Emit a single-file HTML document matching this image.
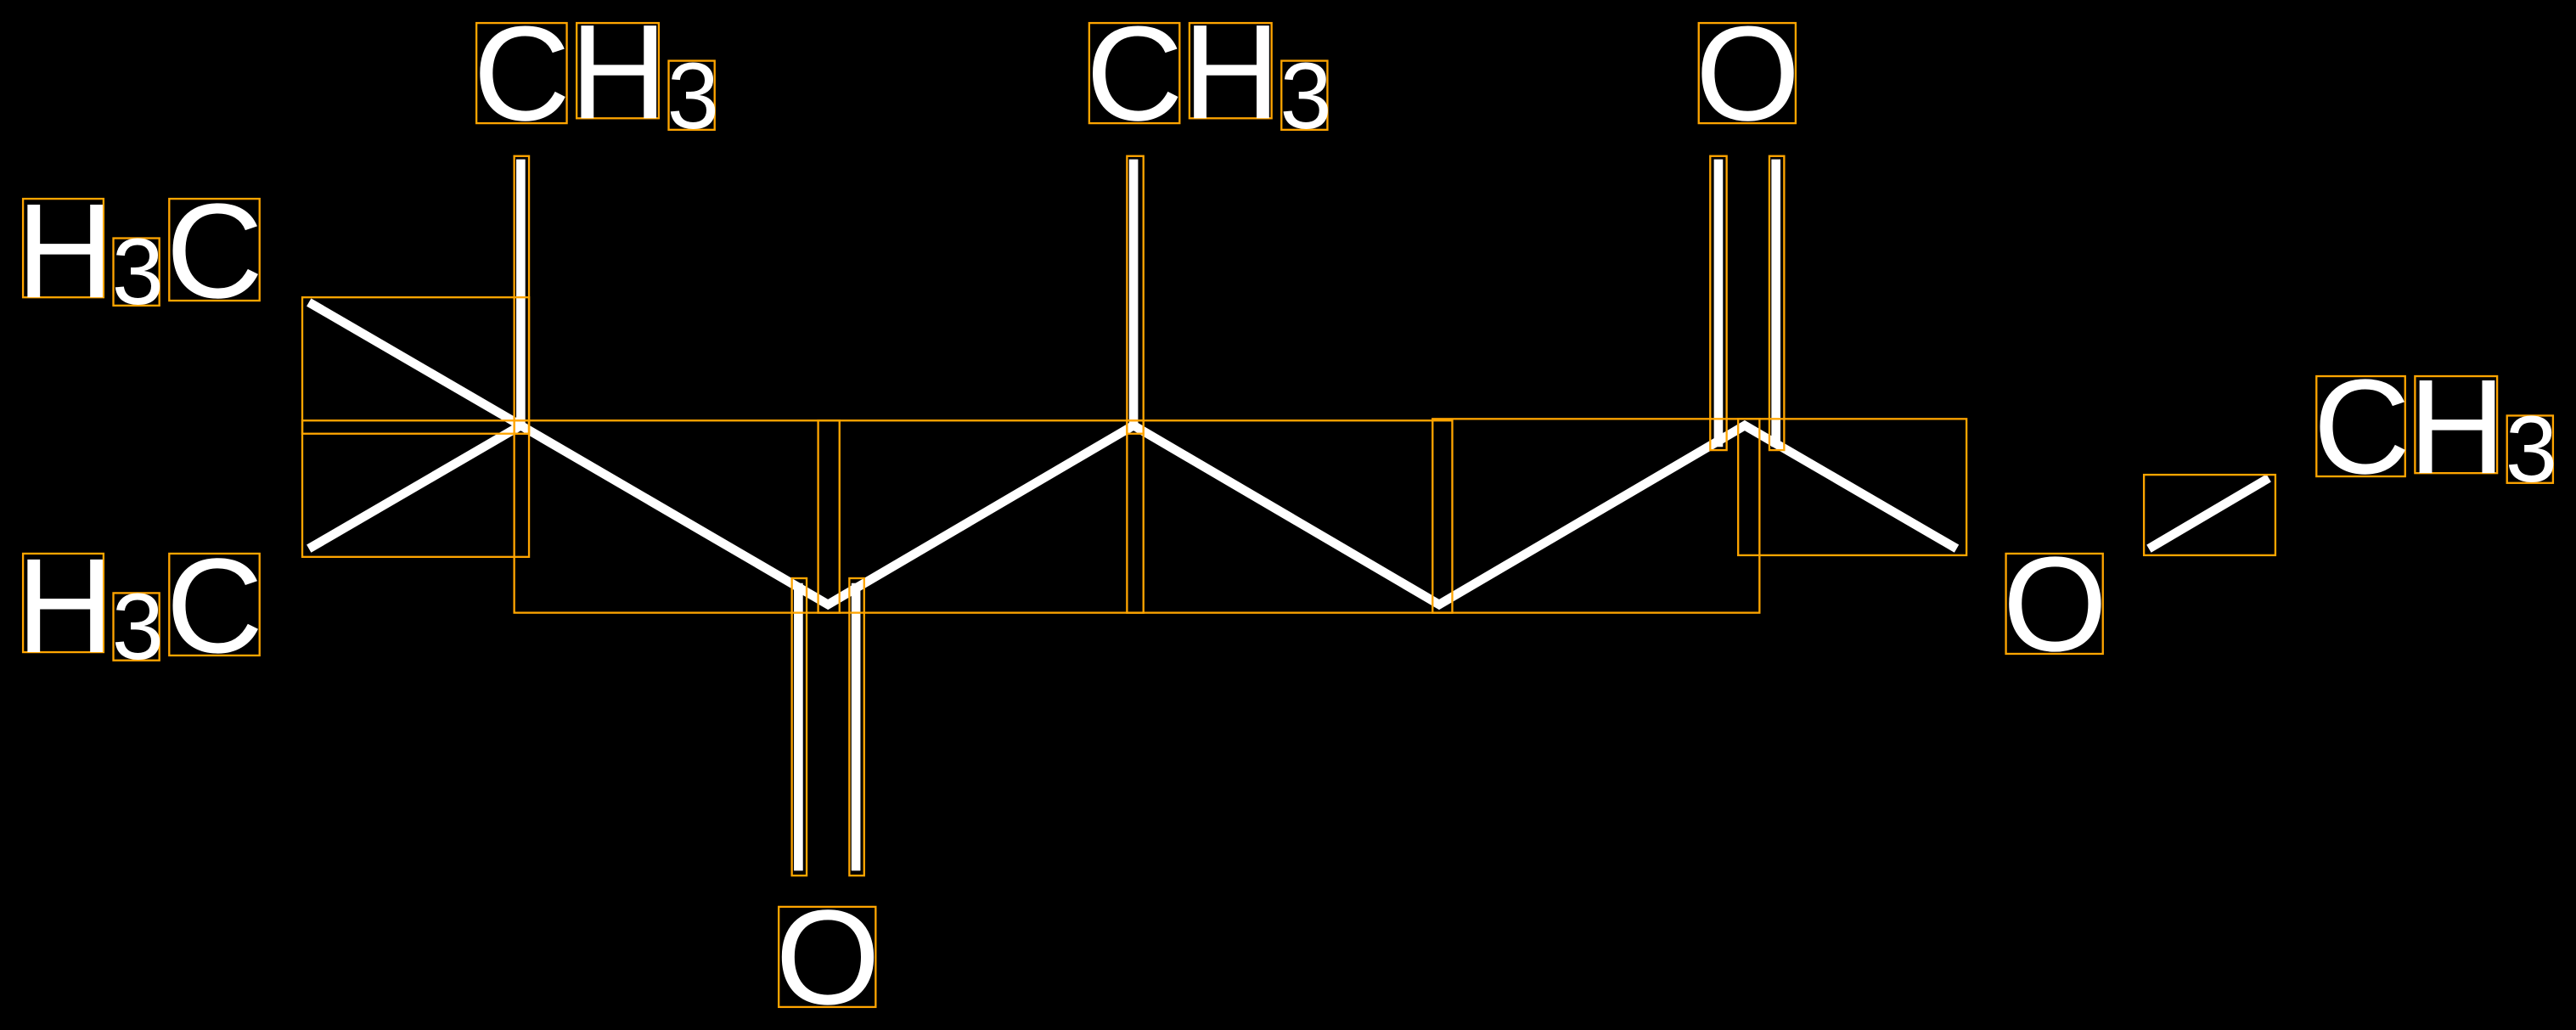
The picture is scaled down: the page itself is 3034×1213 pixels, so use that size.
<!DOCTYPE html>
<html><head><meta charset="utf-8"><style>
html,body{margin:0;padding:0;background:#000;width:3034px;height:1213px;overflow:hidden}
svg{display:block}
text{font-family:"Liberation Sans",sans-serif;fill:#fff}
</style></head><body>
<svg width="3034" height="1213" viewBox="0 0 1568 627" preserveAspectRatio="none" xmlns="http://www.w3.org/2000/svg">
<rect width="1568" height="627" fill="#000"/>
<g stroke="#fff" stroke-width="5.5" fill="none" stroke-linecap="butt">
<line x1="188" y1="184" x2="317" y2="259"/>
<line x1="188" y1="334" x2="317" y2="259"/>
<line x1="317" y1="97" x2="317" y2="259"/>
<polyline points="317,259 504,368 690,259 876,368 1062,259 1191,334"/>
<line x1="690" y1="97" x2="690" y2="259"/>
<line x1="1046" y1="97" x2="1046" y2="272"/>
<line x1="1081" y1="97" x2="1081" y2="272"/>
<line x1="486" y1="355" x2="486" y2="530"/>
<line x1="521" y1="355" x2="521" y2="530"/>
<line x1="1308" y1="334" x2="1381" y2="291"/>
</g>
<g stroke="#FFA500" stroke-width="1.2" fill="none">
<rect x="184" y="181" width="138" height="158"/>
<rect x="184" y="256" width="138" height="8"/>
<rect x="313" y="95" width="9" height="169"/>
<rect x="313" y="256" width="198" height="117"/>
<rect x="498" y="256" width="198" height="117"/>
<rect x="686" y="256" width="198" height="117"/>
<rect x="872" y="255" width="199" height="118"/>
<rect x="1058" y="255" width="139" height="83"/>
<rect x="686" y="95" width="10" height="169"/>
<rect x="482" y="352" width="9" height="181"/>
<rect x="517" y="352" width="9" height="181"/>
<rect x="1041" y="95" width="10" height="179"/>
<rect x="1077" y="95" width="9" height="179"/>
<rect x="1305" y="289" width="80" height="49"/>
<rect x="14" y="121" width="49" height="60"/><rect x="69" y="145" width="28" height="41"/><rect x="103" y="121" width="55" height="62"/>
<rect x="14" y="337" width="49" height="60"/><rect x="69" y="361" width="28" height="41"/><rect x="103" y="337" width="55" height="62"/>
<rect x="290" y="14" width="55" height="61"/><rect x="351" y="14" width="50" height="58"/><rect x="407" y="37" width="28" height="42"/>
<rect x="663" y="14" width="55" height="61"/><rect x="724" y="14" width="50" height="58"/><rect x="780" y="37" width="28" height="42"/>
<rect x="1034" y="14" width="59" height="61"/>
<rect x="474" y="552" width="59" height="61"/>
<rect x="1221" y="337" width="59" height="61"/>
<rect x="1410" y="229" width="54" height="61"/><rect x="1470" y="229" width="50" height="59"/><rect x="1526" y="253" width="28" height="41"/>
</g>
<g font-size="82">
<text x="10" y="181">H</text><text x="68" y="185" font-size="57">3</text><text x="101" y="181">C</text>
<text x="10" y="397">H</text><text x="68" y="401" font-size="57">3</text><text x="101" y="397">C</text>
<text x="288" y="73">C</text><text x="347" y="72">H</text><text x="406" y="78" font-size="57">3</text>
<text x="661" y="73">C</text><text x="720" y="72">H</text><text x="779" y="78" font-size="57">3</text>
<text x="1032" y="73">O</text>
<text x="472" y="611">O</text>
<text x="1219" y="396">O</text>
<text x="1408" y="288">C</text><text x="1466" y="288">H</text><text x="1525" y="293" font-size="57">3</text>
</g>
</svg>
</body></html>
